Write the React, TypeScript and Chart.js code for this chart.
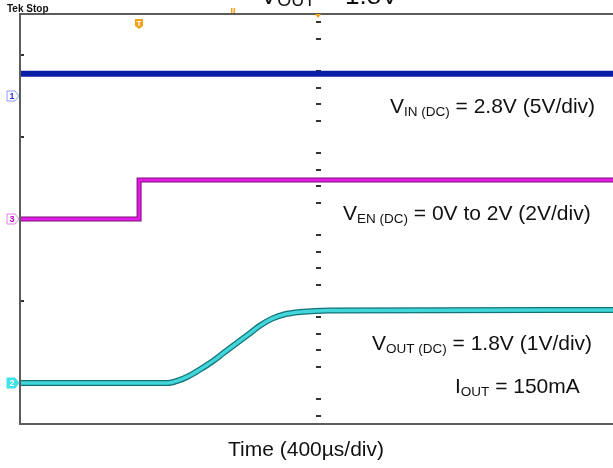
import React, { useEffect, useRef } from 'react';
import { Chart, registerables } from 'chart.js';
Chart.register(...registerables);

// Horizontal axis: time in µs (400 µs/div), vertical axis: screen divisions 0..10
const TIME_MIN = -1454;
const TIME_MAX = 1439;
const DIV_MIN = 0;
const DIV_MAX = 10;

// Channel setup (ground-marker offset in divisions, volts per division)
const CH1_OFFSET = 8; // V_IN
const CH1_VPD = 5;
const CH3_OFFSET = 5; // V_EN
const CH3_VPD = 2;
const CH2_OFFSET = 1; // V_OUT
const CH2_VPD = 1;

// V_IN trace
const vinTime = [-1454, 1439];
const vinVolts = [2.7, 2.7];

// V_EN trace (step at trigger)
const enTime = [-1454, -873, -873, 1439];
const enVolts = [0, 0, 1.9, 1.9];

// V_OUT soft-start ramp
const voutTime = [-1454, -732, -683, -634, -576, -517, -459, -400, -341, -283, -224, -166, -88, 59, 1439];
const voutVolts = [0, 0, 0.06, 0.16, 0.33, 0.52, 0.74, 0.96, 1.18, 1.4, 1.57, 1.67, 1.73, 1.77, 1.78];

const FONT = '"Liberation Sans", Arial, sans-serif';

function toDiv(times: number[], volts: number[], offset: number, vpd: number) {
  return times.map((t, i) => ({ x: t, y: offset + volts[i] / vpd }));
}

type Seg = [string, boolean];

function drawRich(ctx: CanvasRenderingContext2D, x: number, y: number, segs: Seg[], size: number, subSize: number, subDy = 3) {
  let cx = x;
  ctx.textBaseline = 'alphabetic';
  ctx.textAlign = 'left';
  for (const [txt, sub] of segs) {
    ctx.font = `${sub ? subSize : size}px ${FONT}`;
    ctx.fillText(txt, cx, sub ? y + subDy : y);
    cx += ctx.measureText(txt).width;
  }
  return cx - x;
}

const overlay = {
  id: 'scopeOverlay',
  beforeDatasetsDraw(chart: any) {
    const ctx: CanvasRenderingContext2D = chart.ctx;
    const xs = chart.scales.x;
    const ys = chart.scales.y;
    const cx = Math.round(xs.getPixelForValue(0));
    ctx.save();
    ctx.fillStyle = '#333';
    // center graticule minor ticks (every 0.4 div, skipping the major positions)
    for (let k = 0; k <= 24; k++) {
      if (k % 5 === 2) continue;
      const v = 9.8 - 0.4 * k;
      const py = Math.round(ys.getPixelForValue(v));
      ctx.fillRect(cx - 2, py - 1, 5, 2);
    }
    // left axis major ticks
    const ca = chart.chartArea;
    for (const v of [9, 7, 5, 3, 1]) {
      const py = Math.round(ys.getPixelForValue(v));
      ctx.fillRect(ca.left, py - 1, 4, 2);
    }
    ctx.restore();
  },
  afterDatasetsDraw(chart: any) {
    const ctx: CanvasRenderingContext2D = chart.ctx;
    const ca = chart.chartArea;
    const xs = chart.scales.x;
    const ys = chart.scales.y;
    ctx.save();
    // frame
    ctx.strokeStyle = '#5c5c5c';
    ctx.lineWidth = 2;
    ctx.beginPath();
    ctx.moveTo(chart.width + 2, ca.top);
    ctx.lineTo(ca.left, ca.top);
    ctx.lineTo(ca.left, ca.bottom);
    ctx.lineTo(chart.width + 2, ca.bottom);
    ctx.stroke();

    // channel ground markers
    const mk = (v: number, label: string, fill: string | null, stroke: string, textColor: string) => {
      const py = Math.round(ys.getPixelForValue(v));
      const x0 = 7;
      ctx.beginPath();
      ctx.moveTo(x0, py - 5);
      ctx.lineTo(x0 + 8, py - 5);
      ctx.lineTo(x0 + 12, py);
      ctx.lineTo(x0 + 8, py + 5);
      ctx.lineTo(x0, py + 5);
      ctx.closePath();
      if (fill) {
        ctx.fillStyle = fill;
        ctx.fill();
      }
      ctx.strokeStyle = stroke;
      ctx.lineWidth = 1;
      ctx.stroke();
      ctx.fillStyle = textColor;
      ctx.font = `bold 9px ${FONT}`;
      ctx.textAlign = 'center';
      ctx.textBaseline = 'middle';
      ctx.fillText(label, x0 + 5, py + 0.5);
    };
    mk(CH1_OFFSET, '1', null, '#8f9cff', '#2a3adf');
    mk(CH3_OFFSET, '3', null, '#e080e0', '#c000c0');
    mk(CH2_OFFSET, '2', '#3fe0ea', '#3fe0ea', '#ffffff');

    // trigger marker (orange T) at the trigger time
    const tx = Math.round(xs.getPixelForValue(enTime[1]));
    ctx.fillStyle = '#f3a11c';
    ctx.beginPath();
    ctx.moveTo(tx - 4, 19);
    ctx.lineTo(tx + 4, 19);
    ctx.lineTo(tx + 4, 26);
    ctx.lineTo(tx, 29);
    ctx.lineTo(tx - 4, 26);
    ctx.closePath();
    ctx.fill();
    ctx.fillStyle = '#ffffff';
    ctx.font = `bold 8px ${FONT}`;
    ctx.textAlign = 'center';
    ctx.textBaseline = 'middle';
    ctx.fillText('T', tx, 23.5);

    // orange position marks on the top border
    ctx.fillStyle = '#f3a11c';
    ctx.fillRect(231, 8, 1.5, 5);
    ctx.fillRect(233.5, 8, 1.5, 5);
    const cx = Math.round(xs.getPixelForValue(0));
    ctx.beginPath();
    ctx.moveTo(cx - 3, ca.top);
    ctx.lineTo(cx + 3, ca.top);
    ctx.lineTo(cx, ca.top + 4);
    ctx.closePath();
    ctx.fill();

    // Tek Stop
    ctx.fillStyle = '#111';
    ctx.font = `bold 10px ${FONT}`;
    ctx.textAlign = 'left';
    ctx.textBaseline = 'alphabetic';
    ctx.fillText('Tek Stop', 7, 12);

    // Annotations
    ctx.fillStyle = '#111';
    drawRich(ctx, 260, 4, [['V', false], ['OUT', true], [' = 1.8V', false]], 26, 18, 2);
    drawRich(ctx, 390, 113, [['V', false], ['IN (DC)', true], [' = 2.8V (5V/div)', false]], 21, 13.5);
    drawRich(ctx, 343, 220, [['V', false], ['EN (DC)', true], [' = 0V to 2V (2V/div)', false]], 21, 13.5);
    drawRich(ctx, 372, 350, [['V', false], ['OUT (DC)', true], [' = 1.8V (1V/div)', false]], 21, 13.5);
    drawRich(ctx, 455, 393, [['I', false], ['OUT', true], [' = 150mA', false]], 21, 13.5);
    ctx.font = `21px ${FONT}`;
    ctx.textAlign = 'center';
    ctx.fillText('Time (400\u00b5s/div)', 306, 456);
    ctx.restore();
  },
};

export default function App() {
  const ref = useRef<HTMLCanvasElement | null>(null);
  useEffect(() => {
    if (!ref.current) return;
    const vin = toDiv(vinTime, vinVolts, CH1_OFFSET, CH1_VPD);
    const en = toDiv(enTime, enVolts, CH3_OFFSET, CH3_VPD);
    const vout = toDiv(voutTime, voutVolts, CH2_OFFSET, CH2_VPD);
    const chart = new Chart(ref.current, {
      type: 'line',
      data: {
        datasets: [
          { data: vin, borderColor: '#0d1ea6', borderWidth: 6, order: 5 },
          { data: en.map((p) => ({ ...p })), borderColor: '#7c0f7c', borderWidth: 5, order: 4 },
          { data: en.map((p) => ({ ...p })), borderColor: '#e21ce2', borderWidth: 3, order: 3 },
          { data: vout.map((p) => ({ ...p })), borderColor: '#137277', borderWidth: 6, cubicInterpolationMode: 'monotone', order: 2 },
          { data: vout.map((p) => ({ ...p })), borderColor: '#40d6da', borderWidth: 3.5, cubicInterpolationMode: 'monotone', order: 1 },
        ] as any,
      },
      options: {
        animation: false,
        responsive: false,
        maintainAspectRatio: false,
        layout: { padding: { left: 20, top: 14, right: 0, bottom: 44 } },
        elements: { point: { radius: 0 }, line: { tension: 0, borderCapStyle: 'butt' } },
        scales: {
          x: { type: 'linear', min: TIME_MIN, max: TIME_MAX, display: false },
          y: { type: 'linear', min: DIV_MIN, max: DIV_MAX, display: false },
        },
        plugins: { legend: { display: false }, tooltip: { enabled: false }, title: { display: false } },
      },
      plugins: [overlay],
    });
    return () => chart.destroy();
  }, []);
  return (
    <div style={{ position: 'absolute', left: 0, top: 0, width: 613, height: 468, background: '#fff', overflow: 'hidden' }}>
      <canvas ref={ref} width={613} height={468} style={{ display: 'block', width: 613, height: 468 }} />
    </div>
  );
}
